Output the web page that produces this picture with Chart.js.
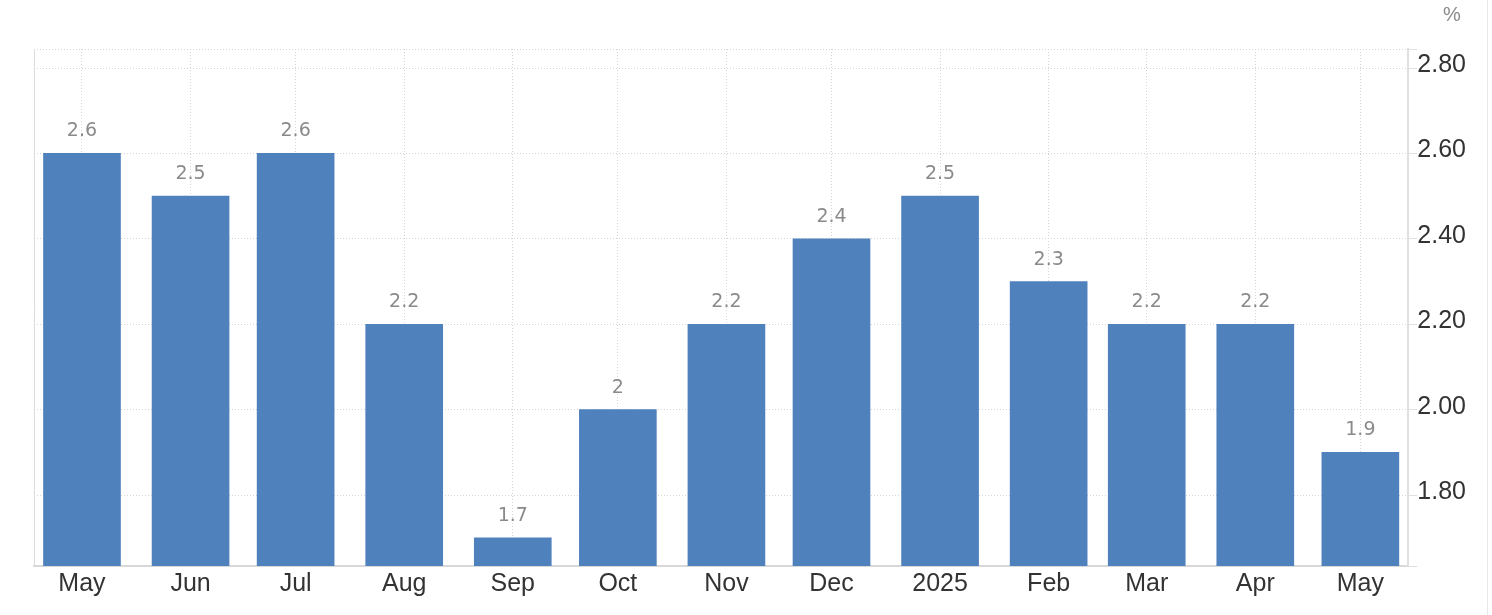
<!DOCTYPE html>
<html>
<head>
<meta charset="utf-8">
<script src="https://cdn.jsdelivr.net/npm/chart.js@4"></script>
<style>
    body { margin: 0; background: #fff; }
    #wrap { position: relative; width: 1487px; height: 615px; border-right: 1px solid #e8e8e8; }
    #unit { position: absolute; left: 1443px; top: 3px; font: 20px "Liberation Sans", Arial, sans-serif; color: #8a8a8a; }
</style>
</head>
<body>
<div id="wrap">
    <canvas id="chart"></canvas>
    <div id="unit">%</div>
</div>
<script>
// 월별 값 (2024-05 ~ 2025-05)
const xLabels = ["May", "Jun", "Jul", "Aug", "Sep", "Oct", "Nov", "Dec", "2025", "Feb", "Mar", "Apr", "May"];
// 2024-05-01 기준 일수
const xDays = [0, 31, 61, 92, 123, 153, 184, 214, 245, 276, 304, 335, 365];
const values = [2.6, 2.5, 2.6, 2.2, 1.7, 2.0, 2.2, 2.4, 2.5, 2.3, 2.2, 2.2, 1.9];
const yTicks = [1.8, 2.0, 2.2, 2.4, 2.6, 2.8];

const points = xDays.map((d, i) => ({x: d, y: values[i]}));

// 막대 위 값 표시
const valueLabels = {
    id: "valueLabels",
    afterDatasetsDraw(chart) {
        const ctx = chart.ctx;
        ctx.save();
        ctx.font = '19px "DejaVu Sans", sans-serif';
        ctx.fillStyle = "#8a8a8a";
        ctx.textAlign = "center";
        ctx.textBaseline = "alphabetic";
        chart.getDatasetMeta(0).data.forEach((bar, i) => {
            ctx.fillText(String(values[i]), bar.x, bar.y - 17);
        });
        ctx.restore();
    }
};

// 왼쪽 테두리
const leftLine = {
    id: "leftLine",
    beforeDatasetsDraw(chart) {
        const a = chart.chartArea;
        const ctx = chart.ctx;
        ctx.save();
        ctx.strokeStyle = "#dcdcdc";
        ctx.lineWidth = 1;
        ctx.beginPath();
        ctx.moveTo(a.left + 0.5, a.top);
        ctx.lineTo(a.left + 0.5, a.bottom);
        ctx.stroke();
        ctx.restore();
    }
};

new Chart(document.querySelector("#chart"), {
    type: "bar",
    data: {
        datasets: [{
            data: points,
            backgroundColor: "#4f81bd",
            barThickness: 77
        }]
    },
    options: {
        responsive: true,
        maintainAspectRatio: false,
        animation: false,
        layout: {padding: {top: 49, left: 34, right: 21, bottom: 13}},
        plugins: {
            legend: {display: false},
            tooltip: {enabled: false}
        },
        scales: {
            x: {
                type: "linear",
                offset: false,
                min: -13.7,
                max: 378.7,
                afterBuildTicks: scale => {
                    scale.ticks = xDays.map(v => ({value: v}));
                },
                ticks: {
                    autoSkip: false,
                    maxRotation: 0,
                    padding: 3,
                    color: "#333",
                    font: {family: '"Liberation Sans", Arial, sans-serif', size: 25},
                    callback: (v, i) => xLabels[i]
                },
                grid: {
                    offset: false,
                    color: "#d6d6d6",
                    drawTicks: false
                },
                border: {color: "#d8d8d8", width: 2, dash: [1, 2]}
            },
            y: {
                position: "right",
                min: 1.634,
                max: 2.8445,
                afterBuildTicks: scale => {
                    scale.ticks = [scale.min, ...yTicks, scale.max].map(v => ({value: v}));
                },
                ticks: {
                    padding: 0,
                    labelOffset: -3,
                    color: "#333",
                    font: {family: '"Liberation Sans", Arial, sans-serif', size: 25},
                    callback: v => yTicks.some(t => Math.abs(t - v) < 1e-6) ? v.toFixed(2) : ""
                },
                grid: {
                    color: "#d6d6d6",
                    tickLength: 9,
                    tickColor: "#e0e0e0"
                },
                border: {color: "#e0e0e0", width: 2, dash: [1, 2]}
            }
        }
    },
    plugins: [valueLabels, leftLine]
});
</script>
</body>
</html>
